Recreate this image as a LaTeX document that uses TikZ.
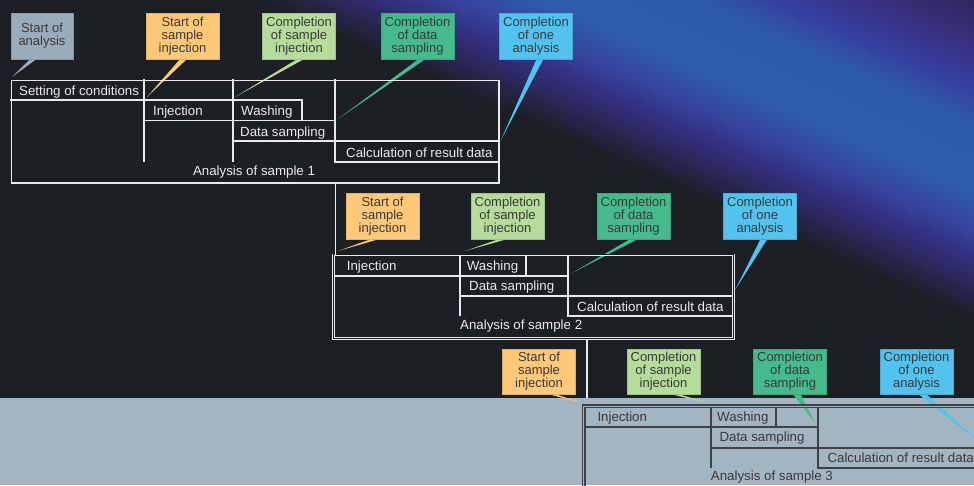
\documentclass[tikz,border=0pt]{standalone}
\usepackage{fontspec}
\setmainfont{Liberation Sans}
\definecolor{bgdark}{HTML}{1C1F23}
\definecolor{bglight}{HTML}{A3B5C1}
\definecolor{cgrey}{HTML}{9AACB9}
\definecolor{corange}{HTML}{FDC878}
\definecolor{clgreen}{HTML}{B5DC9B}
\definecolor{cgreen}{HTML}{45BB8C}
\definecolor{cblue}{HTML}{52C2EF}
\definecolor{ctext}{HTML}{3A3A3A}
\definecolor{tline}{HTML}{EAEAEA}
\definecolor{dline}{HTML}{3E4246}
\tikzset{
  markbox/.style={minimum width=73pt, minimum height=46pt, inner sep=0pt, align=center,
    text=ctext, font=\fontsize{13}{13}\selectfont, fill=#1, draw=#1!88!black, line width=0.5pt},
  celltext/.style={anchor=base west, inner sep=0pt, text=tline, font=\fontsize{13.3}{13.3}\selectfont},
  darktext/.style={celltext, text=ctext},
  gridw/.style={draw=tline, line width=1.3pt},
  gridd/.style={draw=dline, line width=1.3pt},
}
\begin{document}
\begin{tikzpicture}[x=1pt,y=-1pt]
\useasboundingbox (0,0) rectangle (974,485);
\clip (0,0) rectangle (974,485);
% background
\fill[bgdark] (0,0) rectangle (974,398);
\fill[bglight] (0,398) rectangle (974,485);
\begin{scope}
  \clip (0,0) rectangle (974,398);
  \begin{scope}[shift={(610,0)}, rotate=-24]
    \foreach \ta/\tb/\ra/\ga/\ba/\rb/\gb/\bb in {
        -200/-160/32/30/55/45/36/82,
        -160/-110/45/36/82/55/48/125,
        -110/-70/55/48/125/56/62/158,
        -70/-35/56/62/158/46/90/170,
        -35/30/46/90/170/46/92/170,
        30/60/46/92/170/55/70/160,
        60/90/55/70/160/52/48/128,
        90/145/52/48/128/28/31/35,
        145/200/28/31/35/28/31/35} {
      \pgfmathtruncatemacro{\nn}{(\tb-\ta)/5}
      \foreach \k in {1,...,\nn} {
        \pgfmathsetmacro{\ff}{(\k-0.5)/\nn}
        \pgfmathtruncatemacro{\RR}{\ra+(\rb-\ra)*\ff}
        \pgfmathtruncatemacro{\GG}{\ga+(\gb-\ga)*\ff}
        \pgfmathtruncatemacro{\BB}{\ba+(\bb-\ba)*\ff}
        \definecolor{stripc}{RGB}{\RR,\GG,\BB}
        \pgfmathsetmacro{\ya}{\ta+(\k-1)*5}
        \pgfmathsetmacro{\yb}{\ya+5.8}
        \fill[stripc] (-600,\ya) rectangle (600,\yb);
      }
    }
  \end{scope}
\end{scope}

% ---------- callouts row 1 ----------
\coordinate (p1) at (12,77);
\coordinate (p2) at (147,97);
\coordinate (p3) at (235,97);
\coordinate (p4) at (338,119);
\coordinate (p5) at (501,140);
\fill[cgrey] (31,58) -- (p1) -- (38,58) -- cycle;
\fill[corange] (181,58) -- (p2) -- (188,58) -- cycle;
\fill[clgreen] (299,58) -- (p3) -- (306,58) -- cycle;
\fill[cgreen] (420,58) -- (p4) -- (427,58) -- cycle;
\fill[cblue] (537,58) -- (p5) -- (544,58) -- cycle;
\node[markbox=cgrey, minimum width=62pt] (a1) at (42,36) {Start of\\analysis};
\node[markbox=corange] (a2) at (182.5,36) {Start of\\sample\\injection};
\node[markbox=clgreen] (a3) at (299,36) {Completion\\of sample\\injection};
\node[markbox=cgreen] (a4) at (417.5,36) {Completion\\of data\\sampling};
\node[markbox=cblue] (a5) at (536,36) {Completion\\of one\\analysis};

% ---------- sample 1 ----------
\node[draw=tline, line width=1.3pt, minimum width=487.7pt, minimum height=102.7pt, inner sep=0pt, anchor=north west] (s1) at (10.65,79.65) {};
\draw[gridw] (10,100) -- (302,100) -- (302,120.5);
\draw[gridw] (144,79) -- (144,162);
\draw[gridw] (233,79) -- (233,162);
\draw[gridw] (335,79) -- (335,162) -- (499,162);
\draw[gridw] (144,120.5) -- (335,120.5);
\draw[gridw] (233,141) -- (499,141);
\node[celltext] (t11) at (19,95.5) {Setting of conditions};
\node[celltext] (t12) at (153,115.3) {Injection};
\node[celltext] (t13) at (241,115.3) {Washing};
\node[celltext] (t14) at (240,136.7) {Data sampling};
\node[celltext] (t15) at (346,157.3) {Calculation of result data};
\node[celltext, anchor=base] (t16) at (254,175.7) {Analysis of sample 1};

% ---------- callouts row 2 ----------
\coordinate (q1) at (338,251);
\coordinate (q2) at (465,251);
\coordinate (q3) at (572,273);
\coordinate (q4) at (735,290);
\fill[corange] (374,238) -- (q1) -- (383,238) -- cycle;
\fill[clgreen] (502,238) -- (q2) -- (511,238) -- cycle;
\fill[cgreen] (632,238) -- (q3) -- (640,238) -- cycle;
\fill[cblue] (761,238) -- (q4) -- (768,238) -- cycle;
\node[markbox=corange] (b1) at (382.5,216) {Start of\\sample\\injection};
\node[markbox=clgreen] (b2) at (507.5,216) {Completion\\of sample\\injection};
\node[markbox=cgreen] (b3) at (633.5,216) {Completion\\of data\\sampling};
\node[markbox=cblue] (b4) at (760,216) {Completion\\of one\\analysis};

% ---------- sample 2 ----------
\node[draw=tline, double=bgdark, double distance=1.1pt, line width=0.85pt, minimum width=400pt, minimum height=83.5pt, inner sep=0pt, anchor=north west] (s2) at (333,254.5) {};
\coordinate (c12) at (335.3,0);
\draw[gridw] (s1.south -| c12) -- (s2.north -| c12);
\draw[gridw] (334,276) -- (568,276);
\draw[gridw] (460,255.5) -- (460,316);
\draw[gridw] (526,255.5) -- (526,276);
\draw[gridw] (568,255.5) -- (568,316) -- (732.5,316);
\draw[gridw] (460,296) -- (732.5,296);
\node[celltext] (t21) at (346.7,270.7) {Injection};
\node[celltext] (t22) at (466.7,270.7) {Washing};
\node[celltext] (t23) at (469,290.7) {Data sampling};
\node[celltext] (t24) at (577,311) {Calculation of result data};
\node[celltext] (t25) at (460,329) {Analysis of sample 2};

% ---------- callouts row 3 ----------
\coordinate (r1) at (582,403);
\coordinate (r2) at (708,403);
\coordinate (r3) at (815,423);
\coordinate (r4) at (985,447);
\fill[corange] (544,393) -- (r1) -- (552,393) -- cycle;
\fill[clgreen] (666,393) -- (r2) -- (675,393) -- cycle;
\fill[cgreen] (792,393) -- (r3) -- (800,393) -- cycle;
\fill[cblue] (917,393) -- (r4) -- (925,393) -- cycle;
\node[markbox=corange, minimum height=45pt] (d1) at (539,371.5) {Start of\\sample\\injection};
\node[markbox=clgreen, minimum height=45pt] (d2) at (663.5,371.5) {Completion\\of sample\\injection};
\node[markbox=cgreen, minimum height=45pt] (d3) at (790,371.5) {Completion\\of data\\sampling};
\node[markbox=cblue, minimum height=45pt] (d4) at (916.5,371.5) {Completion\\of one\\analysis};

% ---------- sample 3 ----------
\node[draw=dline, double=bglight, double distance=1.0pt, line width=1.2pt, minimum width=420pt, minimum height=100pt, inner sep=0pt, anchor=north west] (s3) at (583.3,405.5) {};
\coordinate (c23) at (587,0);
\coordinate (c23end) at (587,398);
\draw[gridw] (s2.south -| c23) -- (c23end);
\draw[gridd] (585,427) -- (818,427);
\draw[gridd] (711,407) -- (711,468);
\draw[gridd] (776,407) -- (776,427);
\draw[gridd] (818,407) -- (818,468) -- (980,468);
\draw[gridd] (711,448) -- (980,448);
\node[darktext] (t31) at (597.3,421.3) {Injection};
\node[darktext] (t32) at (717,421.3) {Washing};
\node[darktext] (t33) at (719.3,441.7) {Data sampling};
\node[darktext] (t34) at (827.3,462.3) {Calculation of result data};
\node[darktext] (t35) at (710.7,480.7) {Analysis of sample 3};
\end{tikzpicture}
\end{document}
